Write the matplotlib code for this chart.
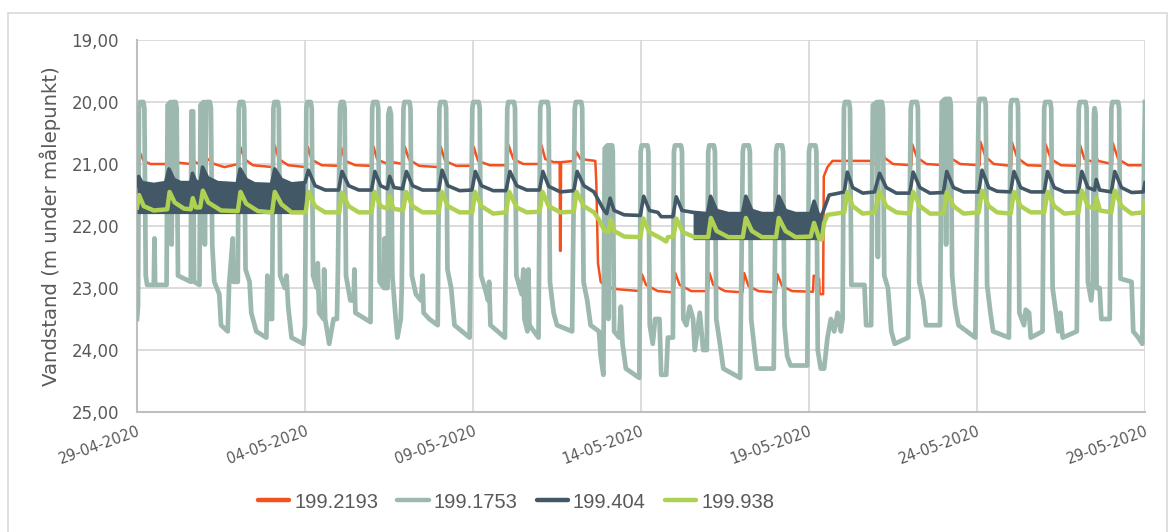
"""
Vandstand i pejleboringer, 29-04-2020 til 29-05-2020.
Tid er angivet i døgn efter 29-04-2020 00:00.
"""
import datetime as dt

import matplotlib
matplotlib.use("Agg")
import matplotlib.pyplot as plt
import matplotlib.dates as mdates
from matplotlib.lines import Line2D
from matplotlib.patches import Rectangle
from matplotlib.ticker import FuncFormatter

START = dt.datetime(2020, 4, 29)

SERIES_NAMES = ["199.2193", "199.1753", "199.404", "199.938"]
COLORS = {
    "199.2193": "#F4511E",
    "199.1753": "#9DB9AF",
    "199.404": "#435867",
    "199.938": "#AED152",
}

# (døgn, m under målepunkt)
red_pts = [
    (0.00, 20.95), (0.07, 20.80), (0.20, 20.95), (0.40, 21.00), (0.90, 21.00),
    (0.94, 20.74), (1.05, 20.90), (1.25, 20.98), (1.60, 21.00), (1.64, 20.85), (1.72, 20.97), (1.88, 21.00),
    (1.93, 20.73), (2.05, 20.90), (2.30, 21.00), (2.60, 21.05), (3.02, 21.00),
    (3.07, 20.72), (3.20, 20.92), (3.45, 21.02), (4.05, 21.05),
    (4.10, 20.70), (4.22, 20.92), (4.50, 21.02), (5.03, 21.05),
    (5.08, 20.72), (5.20, 20.93), (5.50, 21.02), (6.03, 21.03),
    (6.08, 20.74), (6.20, 20.95), (6.50, 21.02), (6.99, 21.03),
    (7.04, 20.72), (7.15, 20.93), (7.47, 21.00), (7.50, 20.85), (7.60, 20.97), (7.92, 21.00),
    (7.97, 20.72), (8.10, 20.93), (8.40, 21.03), (8.99, 21.05),
    (9.04, 20.72), (9.17, 20.95), (9.50, 21.03), (9.97, 21.03),
    (10.02, 20.72), (10.15, 20.95), (10.50, 21.02), (11.01, 21.02),
    (11.06, 20.70), (11.20, 20.92), (11.50, 21.00), (11.99, 21.00),
    (12.04, 20.70), (12.15, 20.92), (12.40, 20.97), (12.58, 20.97), (12.59, 22.40), (12.61, 22.40),
    (12.62, 20.97), (13.02, 20.95),
    (13.07, 20.80), (13.20, 20.92), (13.64, 20.95), (13.67, 21.30), (13.72, 22.60), (13.80, 22.90),
    (13.95, 22.98), (14.30, 23.02), (14.98, 23.05),
    (15.03, 22.78), (15.15, 22.95), (15.50, 23.05), (15.97, 23.07),
    (16.02, 22.76), (16.15, 22.95), (16.50, 23.05), (16.99, 23.05),
    (17.04, 22.76), (17.15, 22.95), (17.50, 23.05), (18.02, 23.07),
    (18.07, 22.76), (18.20, 22.97), (18.50, 23.05), (19.01, 23.07),
    (19.06, 22.78), (19.20, 22.97), (19.50, 23.05), (20.12, 23.06),
    (20.14, 22.80), (20.30, 22.85), (20.32, 23.10), (20.42, 23.10), (20.44, 21.20), (20.55, 21.05),
    (20.70, 20.95), (21.85, 20.95), (21.86, 21.70), (21.88, 21.70), (21.89, 21.00),
    (22.08, 20.98), (22.10, 20.68), (22.25, 20.90), (22.50, 21.00), (23.05, 21.02),
    (23.07, 20.68), (23.22, 20.90), (23.50, 21.00), (24.02, 21.02),
    (24.04, 20.67), (24.20, 20.90), (24.50, 21.00), (25.08, 21.02),
    (25.10, 20.64), (25.25, 20.88), (25.50, 21.00), (26.02, 21.03),
    (26.04, 20.65), (26.20, 20.90), (26.50, 21.02), (27.02, 21.03),
    (27.04, 20.68), (27.20, 20.92), (27.50, 21.02), (28.05, 21.03),
    (28.07, 20.70), (28.20, 20.92), (28.48, 20.97), (28.50, 20.82), (28.60, 20.95), (29.02, 21.00),
    (29.04, 20.66), (29.20, 20.92), (29.50, 21.02), (30.00, 21.02),
]

gray_pts = [
    (0.00, 23.50), (0.03, 23.30), (0.06, 20.10), (0.09, 20.00), (0.19, 20.00), (0.22, 20.10),
    (0.26, 22.80), (0.30, 22.95),
    (0.50, 22.95), (0.52, 22.20), (0.54, 22.95), (0.88, 22.95),
    (0.91, 20.05), (1.00, 20.00), (1.03, 22.30), (1.07, 20.00), (1.15, 20.00), (1.18, 20.10),
    (1.22, 22.80),
    (1.60, 22.90), (1.62, 20.15), (1.67, 20.15), (1.70, 22.90), (1.86, 22.95),
    (1.89, 20.05), (1.98, 20.00), (2.02, 22.30), (2.06, 20.00), (2.17, 20.00), (2.20, 20.10),
    (2.24, 22.30),
    (2.30, 22.90), (2.45, 23.10), (2.50, 23.60), (2.70, 23.70), (2.74, 22.95), (2.85, 22.20),
    (2.87, 22.90), (3.00, 22.90),
    (3.03, 20.10), (3.06, 20.00), (3.16, 20.00), (3.19, 20.10), (3.23, 22.70), (3.35, 22.90),
    (3.40, 23.40), (3.55, 23.70),
    (3.85, 23.80), (3.88, 22.80), (3.92, 23.50), (4.02, 23.50),
    (4.06, 20.10), (4.09, 20.00), (4.19, 20.00), (4.22, 20.10), (4.26, 22.80), (4.40, 23.00),
    (4.45, 22.80), (4.50, 23.30),
    (4.60, 23.80), (4.95, 23.90), (5.00, 23.60),
    (5.04, 20.10), (5.07, 20.00), (5.17, 20.00), (5.20, 20.10), (5.24, 22.80), (5.35, 23.00),
    (5.38, 22.60), (5.42, 23.40),
    (5.55, 23.50), (5.57, 22.70), (5.60, 23.50), (5.72, 23.90), (5.85, 23.50), (5.95, 23.50),
    (5.98, 22.70),
    (6.04, 20.10), (6.07, 20.00), (6.15, 20.00), (6.18, 20.10), (6.22, 22.80), (6.35, 23.20),
    (6.45, 23.20), (6.47, 22.70),
    (6.50, 23.40), (6.95, 23.55),
    (7.00, 20.10), (7.03, 20.00), (7.15, 20.00), (7.18, 20.10), (7.22, 22.90), (7.35, 23.00),
    (7.37, 22.20), (7.40, 23.00),
    (7.46, 23.00), (7.48, 20.20), (7.52, 20.10), (7.56, 20.20), (7.60, 22.80), (7.70, 23.50),
    (7.75, 23.80), (7.85, 23.50), (7.88, 23.00),
    (7.93, 20.10), (7.96, 20.00), (8.11, 20.00), (8.14, 20.10), (8.18, 22.80), (8.30, 23.10),
    (8.45, 23.20), (8.50, 22.80),
    (8.53, 23.40), (8.70, 23.50), (8.95, 23.60),
    (9.00, 20.10), (9.03, 20.00), (9.17, 20.00), (9.20, 20.10), (9.24, 22.70), (9.35, 23.00),
    (9.45, 23.60), (9.90, 23.80),
    (9.98, 20.10), (10.01, 20.00), (10.17, 20.00), (10.20, 20.10), (10.24, 22.80), (10.35, 23.00),
    (10.45, 23.20), (10.48, 22.90),
    (10.52, 23.60), (10.95, 23.80),
    (11.02, 20.10), (11.05, 20.00), (11.22, 20.00), (11.25, 20.10), (11.29, 22.80), (11.45, 23.10),
    (11.50, 22.70), (11.53, 23.50),
    (11.62, 23.70), (11.65, 22.70), (11.68, 23.60), (11.95, 23.80),
    (12.00, 20.10), (12.03, 20.00), (12.22, 20.00), (12.25, 20.10), (12.29, 22.90), (12.40, 23.40),
    (12.50, 23.60), (12.95, 23.70),
    (13.03, 20.10), (13.06, 20.00), (13.22, 20.00), (13.25, 20.10), (13.29, 22.90), (13.40, 23.20),
    (13.50, 23.60), (13.75, 23.70),
    (13.80, 24.10), (13.88, 24.40),
    (13.92, 20.75), (14.00, 20.70), (14.03, 23.50), (14.06, 20.70), (14.14, 20.70), (14.16, 20.80),
    (14.20, 23.70),
    (14.35, 23.80), (14.40, 23.30), (14.45, 23.90), (14.55, 24.30), (14.95, 24.45),
    (14.99, 20.80), (15.02, 20.70), (15.19, 20.70), (15.22, 20.80), (15.26, 23.60), (15.35, 23.90),
    (15.42, 23.50), (15.55, 23.50),
    (15.60, 24.40), (15.75, 24.40), (15.80, 23.80), (15.95, 23.80),
    (15.98, 20.80), (16.01, 20.70), (16.19, 20.70), (16.22, 20.80), (16.26, 23.50), (16.35, 23.60),
    (16.45, 23.30), (16.55, 23.50),
    (16.60, 24.00), (16.75, 23.40), (16.85, 24.00), (16.96, 24.00),
    (17.00, 20.80), (17.03, 20.70), (17.17, 20.70), (17.20, 20.80), (17.24, 23.50), (17.35, 23.90),
    (17.45, 24.30), (17.95, 24.45),
    (18.03, 20.80), (18.06, 20.70), (18.21, 20.70), (18.24, 20.80), (18.28, 23.50), (18.38, 24.00),
    (18.45, 24.30), (18.95, 24.30),
    (19.02, 20.80), (19.05, 20.70), (19.20, 20.70), (19.23, 20.80), (19.27, 23.60), (19.35, 24.10),
    (19.45, 24.25), (19.95, 24.25),
    (20.00, 20.80), (20.03, 20.70), (20.19, 20.70), (20.22, 20.80), (20.26, 24.00), (20.35, 24.30),
    (20.45, 24.30), (20.55, 23.80),
    (20.65, 23.50), (20.75, 23.70), (20.85, 23.40), (20.95, 23.70), (21.00, 23.50),
    (21.04, 20.10), (21.07, 20.00), (21.19, 20.00), (21.22, 20.10), (21.26, 22.95), (21.65, 22.95),
    (21.70, 23.60), (21.85, 23.60),
    (21.90, 20.05), (22.02, 20.00), (22.05, 22.50), (22.08, 20.00), (22.17, 20.00), (22.20, 20.10),
    (22.24, 22.80),
    (22.35, 23.00), (22.45, 23.70), (22.55, 23.90), (22.95, 23.80),
    (23.03, 20.10), (23.06, 20.00), (23.21, 20.00), (23.24, 20.10), (23.28, 22.90), (23.40, 23.20),
    (23.48, 23.60), (23.90, 23.60),
    (23.95, 20.00), (24.05, 19.95), (24.08, 22.30), (24.11, 19.95), (24.19, 19.95), (24.22, 20.05),
    (24.26, 22.80),
    (24.35, 23.30), (24.45, 23.60), (24.95, 23.80),
    (25.05, 20.05), (25.08, 19.95), (25.23, 19.95), (25.26, 20.05), (25.30, 22.95), (25.40, 23.40),
    (25.48, 23.70), (25.95, 23.80),
    (26.00, 20.07), (26.03, 19.97), (26.19, 19.97), (26.22, 20.07), (26.26, 23.40), (26.40, 23.60),
    (26.45, 23.35), (26.55, 23.40),
    (26.60, 23.80), (26.95, 23.70),
    (27.00, 20.10), (27.03, 20.00), (27.18, 20.00), (27.21, 20.10), (27.25, 23.00), (27.35, 23.40),
    (27.42, 23.70), (27.48, 23.40),
    (27.55, 23.80), (27.97, 23.70),
    (28.03, 20.10), (28.06, 20.00), (28.23, 20.00), (28.26, 20.10), (28.30, 22.90), (28.40, 23.20),
    (28.45, 22.90), (28.48, 20.20),
    (28.50, 20.10), (28.53, 20.20), (28.56, 23.00), (28.65, 23.00), (28.70, 23.50), (28.95, 23.50),
    (29.00, 20.10), (29.03, 20.00), (29.20, 20.00), (29.23, 20.10), (29.27, 22.85), (29.60, 22.90),
    (29.65, 23.70), (29.80, 23.80),
    (29.92, 23.90), (29.97, 21.00), (30.00, 20.00),
]

dark_pts = [
    (0.00, 21.35), (0.05, 21.20), (0.15, 21.30), (0.50, 21.33), (0.85, 21.30), (0.95, 21.08),
    (1.10, 21.25), (1.30, 21.30), (1.60, 21.30), (1.65, 21.15), (1.75, 21.28), (1.88, 21.30),
    (1.95, 21.05), (2.10, 21.22), (2.40, 21.30), (2.98, 21.32), (3.07, 21.08), (3.25, 21.25),
    (3.50, 21.32), (4.00, 21.33), (4.10, 21.08), (4.30, 21.25), (4.60, 21.32), (5.00, 21.30),
    (5.10, 21.10), (5.30, 21.35), (5.60, 21.42), (6.00, 21.42), (6.10, 21.12), (6.30, 21.35),
    (6.60, 21.42), (6.98, 21.42), (7.08, 21.12), (7.25, 21.35), (7.45, 21.40), (7.52, 21.20),
    (7.65, 21.38), (7.90, 21.40), (8.02, 21.12), (8.20, 21.35), (8.50, 21.42), (8.98, 21.42),
    (9.08, 21.10), (9.25, 21.35), (9.60, 21.43), (9.97, 21.42), (10.07, 21.12), (10.25, 21.35),
    (10.60, 21.43), (10.98, 21.43), (11.10, 21.12), (11.30, 21.35), (11.60, 21.42), (11.98, 21.42),
    (12.08, 21.12), (12.25, 21.36), (12.60, 21.45), (13.00, 21.43), (13.10, 21.12), (13.30, 21.35),
    (13.60, 21.45), (13.75, 21.60), (13.90, 21.75), (13.98, 21.80), (14.08, 21.55), (14.20, 21.75),
    (14.50, 21.82), (14.98, 21.83), (15.08, 21.52), (15.25, 21.75), (15.50, 21.78), (15.60, 21.85),
    (15.95, 21.85), (16.05, 21.53), (16.22, 21.75), (16.55, 21.78), (16.98, 21.80), (17.07, 21.52),
    (17.25, 21.75), (17.60, 21.80), (18.02, 21.80), (18.12, 21.52), (18.30, 21.75), (18.60, 21.80),
    (19.00, 21.80), (19.10, 21.52), (19.30, 21.75), (19.60, 21.80), (20.05, 21.80), (20.15, 21.60),
    (20.30, 21.85), (20.40, 21.80), (20.50, 21.65), (20.60, 21.50), (20.80, 21.48), (21.05, 21.45),
    (21.14, 21.13), (21.30, 21.38), (21.60, 21.47), (21.95, 21.45), (22.10, 21.15), (22.30, 21.38),
    (22.60, 21.47), (23.00, 21.47), (23.10, 21.13), (23.30, 21.38), (23.60, 21.47), (24.00, 21.46),
    (24.10, 21.12), (24.30, 21.38), (24.60, 21.45), (25.05, 21.45), (25.15, 21.10), (25.35, 21.38),
    (25.60, 21.44), (26.00, 21.45), (26.10, 21.12), (26.30, 21.38), (26.60, 21.45), (27.00, 21.45),
    (27.10, 21.12), (27.30, 21.38), (27.60, 21.45), (28.02, 21.45), (28.12, 21.12), (28.30, 21.38),
    (28.50, 21.42), (28.55, 21.25), (28.65, 21.42), (29.00, 21.45), (29.10, 21.12), (29.30, 21.38),
    (29.60, 21.46), (29.95, 21.45), (30.00, 21.30),
]

# perioder hvor 199.404 svinger kraftigt: (fra, til, nederste niveau)
dark_noise = [(0.00, 5.05, 21.80), (16.55, 20.42, 22.22)]

green_pts = [
    (0.00, 21.70), (0.06, 21.50), (0.20, 21.68), (0.50, 21.75), (0.90, 21.73), (0.97, 21.45),
    (1.12, 21.62), (1.40, 21.72), (1.60, 21.73), (1.66, 21.55), (1.75, 21.70), (1.88, 21.70),
    (1.96, 21.43), (2.12, 21.62), (2.50, 21.75), (3.00, 21.76), (3.08, 21.45), (3.25, 21.64),
    (3.60, 21.76), (4.02, 21.78), (4.10, 21.45), (4.30, 21.65), (4.60, 21.78), (5.02, 21.78),
    (5.10, 21.45), (5.30, 21.68), (5.60, 21.78), (6.02, 21.78), (6.10, 21.46), (6.30, 21.68),
    (6.60, 21.78), (6.98, 21.78), (7.07, 21.45), (7.25, 21.68), (7.45, 21.72), (7.52, 21.52),
    (7.63, 21.72), (7.92, 21.75), (8.01, 21.45), (8.20, 21.68), (8.50, 21.78), (8.98, 21.78),
    (9.07, 21.45), (9.25, 21.68), (9.60, 21.78), (9.98, 21.78), (10.06, 21.45), (10.25, 21.68),
    (10.60, 21.80), (10.98, 21.78), (11.08, 21.45), (11.30, 21.70), (11.60, 21.78), (11.98, 21.77),
    (12.07, 21.45), (12.25, 21.68), (12.60, 21.78), (13.00, 21.77), (13.08, 21.45), (13.30, 21.68),
    (13.60, 21.78), (13.75, 21.90), (13.92, 22.08), (14.03, 22.10), (14.10, 21.90), (14.20, 22.08),
    (14.50, 22.17), (14.98, 22.18), (15.07, 21.88), (15.25, 22.10), (15.60, 22.20), (15.75, 22.25),
    (15.80, 22.18), (15.97, 22.17), (16.05, 21.88), (16.25, 22.10), (16.60, 22.18), (17.00, 22.18),
    (17.08, 21.87), (17.25, 22.08), (17.60, 22.18), (18.03, 22.18), (18.12, 21.87), (18.30, 22.08),
    (18.60, 22.18), (19.02, 22.18), (19.10, 21.87), (19.30, 22.08), (19.60, 22.18), (20.05, 22.17),
    (20.15, 21.95), (20.30, 22.20), (20.38, 22.22), (20.45, 21.95), (20.55, 21.82), (20.80, 21.80),
    (21.05, 21.78), (21.14, 21.45), (21.30, 21.68), (21.60, 21.80), (21.95, 21.78), (22.10, 21.45),
    (22.30, 21.68), (22.60, 21.78), (23.00, 21.80), (23.10, 21.45), (23.30, 21.68), (23.60, 21.80),
    (24.00, 21.80), (24.10, 21.45), (24.30, 21.68), (24.60, 21.80), (25.05, 21.78), (25.15, 21.43),
    (25.35, 21.68), (25.60, 21.78), (26.00, 21.80), (26.10, 21.45), (26.30, 21.68), (26.60, 21.78),
    (27.00, 21.78), (27.10, 21.45), (27.30, 21.68), (27.60, 21.80), (28.02, 21.78), (28.12, 21.43),
    (28.30, 21.68), (28.50, 21.72), (28.56, 21.55), (28.66, 21.75), (29.00, 21.78), (29.10, 21.43),
    (29.30, 21.68), (29.60, 21.80), (29.95, 21.78), (30.00, 21.60),
]

y_ticks = [19, 20, 21, 22, 23, 24, 25]
x_tick_days = [0, 5, 10, 15, 20, 25, 30]
y_label = "Vandstand (m under målepunkt)"

TEXT = "#595959"
GRID = "#D9D9D9"


def to_xy(pts):
    t0 = mdates.date2num(START)
    xs = [t0 + d for d, _ in pts]
    ys = [v for _, v in pts]
    return xs, ys


fig = plt.figure(figsize=(11.76, 5.32), dpi=100)
ax = fig.add_axes([137 / 1176, 1 - 412 / 532, (1145 - 137) / 1176, (412 - 40) / 532])

# ramme om hele figuren
fig.patches.append(Rectangle((8 / 1176, -0.05), 1159 / 1176, 1.05 - 13 / 532,
                             transform=fig.transFigure, fill=False,
                             edgecolor=GRID, linewidth=1.2))

xr, yr = to_xy(red_pts)
xg, yg = to_xy(gray_pts)
xd, yd = to_xy(dark_pts)
xn, yn = to_xy(green_pts)

ax.plot(xr, yr, color=COLORS["199.2193"], lw=1.8, zorder=2)
ax.plot(xg, yg, color=COLORS["199.1753"], lw=3.4, zorder=3, solid_joinstyle="round")
ax.plot(xd, yd, color=COLORS["199.404"], lw=2.6, zorder=4)
for t_from, t_to, lo in dark_noise:
    sel = [(x, y) for (d, _), x, y in zip(dark_pts, xd, yd) if t_from <= d <= t_to]
    ax.fill_between([s[0] for s in sel], [s[1] for s in sel], lo,
                    color=COLORS["199.404"], lw=0, zorder=4)
ax.plot(xn, yn, color=COLORS["199.938"], lw=3.2, zorder=5)

t0 = mdates.date2num(START)
ax.set_xlim(t0, t0 + 30)
ax.set_ylim(25, 19)
ax.set_yticks(y_ticks)
ax.yaxis.set_major_formatter(FuncFormatter(lambda v, p: f"{v:.2f}".replace(".", ",")))
ax.set_xticks([t0 + d for d in x_tick_days])
ax.xaxis.set_major_formatter(mdates.DateFormatter("%d-%m-%Y"))
for lab in ax.get_xticklabels():
    lab.set_rotation(20)
    lab.set_ha("right")
    lab.set_rotation_mode("anchor")

ax.tick_params(axis="y", length=0, labelsize=12, colors=TEXT, pad=13)
ax.tick_params(axis="x", length=0, labelsize=10.5, colors=TEXT, pad=8)
ax.grid(True, color=GRID, lw=1.3)
ax.set_axisbelow(True)
for side in ("top", "right"):
    ax.spines[side].set_visible(False)
for side in ("left", "bottom"):
    ax.spines[side].set_color("#BFBFBF")
    ax.spines[side].set_linewidth(1.5)

ax.set_ylabel(y_label, fontsize=14.2, color=TEXT)
ax.yaxis.set_label_coords(-0.0754, 0.5)

handles = [Line2D([], [], color=COLORS[n], lw=3.2, solid_capstyle="round") for n in SERIES_NAMES]
fig.legend(handles, SERIES_NAMES, loc="center", bbox_to_anchor=(516 / 1176, 1 - 502 / 532),
           ncol=4, frameon=False, labelcolor=TEXT,
           prop={"family": ["Liberation Sans", "DejaVu Sans"], "size": 14.5},
           handlelength=1.55, handletextpad=0.25, columnspacing=0.95)

fig.savefig("out.png", dpi=100)
